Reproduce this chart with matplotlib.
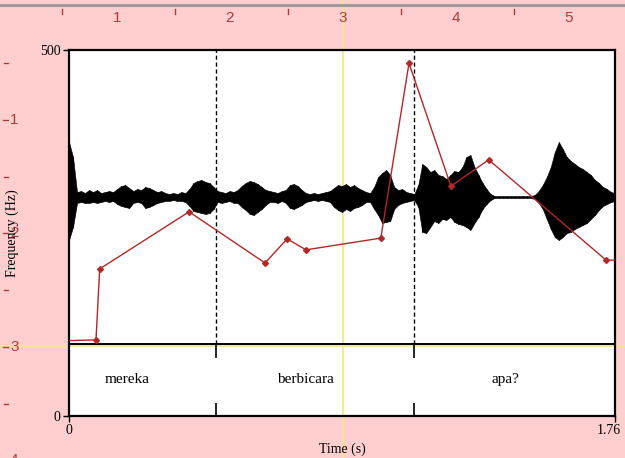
import numpy as np
import matplotlib
matplotlib.use('Agg')
import matplotlib.pyplot as plt
from matplotlib.lines import Line2D
from matplotlib.transforms import ScaledTranslation

# pitch track (s, Hz)
pitch_time = [0.0, 0.087, 0.099, 0.387, 0.632, 0.703, 0.764, 1.005, 1.096, 1.231, 1.353, 1.731, 1.76]
pitch_hz = [103, 104, 201, 279, 209, 242, 227, 243, 482, 314, 350, 213, 213]

# textgrid tier
boundaries = [0.474, 1.112]
words = ['mereka', 'berbicara', 'apa?']
word_time = [0.187, 0.761, 1.406]

# waveform envelope (amplitude above / below zero)
wave_upper = [0.55, 0.40, 0.05, 0.06, 0.04, 0.07, 0.05, 0.07, 0.04, 0.05, 0.06, 0.05,
              0.08, 0.11, 0.12, 0.09, 0.06, 0.08, 0.07, 0.10, 0.09, 0.07, 0.05, 0.06,
              0.04, 0.03, 0.04, 0.03, 0.05, 0.04, 0.08, 0.14, 0.16, 0.17, 0.15, 0.14,
              0.10, 0.06, 0.05, 0.04, 0.06, 0.05, 0.07, 0.11, 0.14, 0.16, 0.15, 0.13,
              0.10, 0.07, 0.06, 0.05, 0.04, 0.06, 0.07, 0.12, 0.13, 0.11, 0.07, 0.04,
              0.03, 0.04, 0.03, 0.04, 0.05, 0.06, 0.09, 0.12, 0.11, 0.13, 0.10, 0.12,
              0.09, 0.07, 0.05, 0.04, 0.10, 0.20, 0.24, 0.27, 0.22, 0.10, 0.07, 0.08,
              0.05, 0.04, 0.03, 0.12, 0.33, 0.30, 0.25, 0.27, 0.22, 0.21, 0.18, 0.22,
              0.26, 0.25, 0.30, 0.40, 0.42, 0.30, 0.22, 0.14, 0.08, 0.03, 0.01, 0.01,
              0.01, 0.01, 0.01, 0.01, 0.01, 0.01, 0.01, 0.01, 0.02, 0.06, 0.12, 0.20,
              0.30, 0.45, 0.55, 0.48, 0.40, 0.36, 0.33, 0.30, 0.28, 0.25, 0.22, 0.17,
              0.14, 0.10, 0.08, 0.05, 0.04]
wave_lower = [0.43, 0.30, 0.06, 0.05, 0.06, 0.06, 0.05, 0.06, 0.05, 0.04, 0.05, 0.04,
              0.07, 0.09, 0.10, 0.11, 0.06, 0.05, 0.06, 0.11, 0.10, 0.08, 0.06, 0.05,
              0.04, 0.04, 0.03, 0.04, 0.04, 0.05, 0.09, 0.14, 0.15, 0.16, 0.17, 0.16,
              0.12, 0.05, 0.06, 0.05, 0.04, 0.06, 0.06, 0.10, 0.13, 0.17, 0.18, 0.15,
              0.12, 0.08, 0.05, 0.05, 0.06, 0.04, 0.06, 0.11, 0.12, 0.10, 0.08, 0.05,
              0.04, 0.03, 0.04, 0.03, 0.04, 0.05, 0.10, 0.13, 0.15, 0.12, 0.14, 0.11,
              0.10, 0.08, 0.05, 0.05, 0.12, 0.18, 0.26, 0.25, 0.24, 0.12, 0.08, 0.06,
              0.05, 0.04, 0.03, 0.10, 0.35, 0.36, 0.30, 0.24, 0.26, 0.22, 0.23, 0.20,
              0.25, 0.27, 0.28, 0.30, 0.33, 0.26, 0.20, 0.12, 0.07, 0.03, 0.01, 0.01,
              0.01, 0.01, 0.01, 0.01, 0.01, 0.01, 0.01, 0.01, 0.02, 0.06, 0.12, 0.22,
              0.32, 0.40, 0.43, 0.40, 0.36, 0.35, 0.32, 0.30, 0.28, 0.26, 0.22, 0.18,
              0.13, 0.09, 0.07, 0.05, 0.04]
duration = 1.76
wave_time = np.linspace(0.0, duration, len(wave_upper))

pink = '#FFCFCF'
ruler_red = '#A83C3C'
yellow = '#F2E88A'
pitch_red = '#B02828'
serif = 'Liberation Serif'

W, H = 625, 458
fig = plt.figure(figsize=(W / 100, H / 100), dpi=100)
fig.set_facecolor(pink)

# axes box in pixels: x 69..615, y 50..416
ax = fig.add_axes([69 / W, 1 - 416 / H, 546 / W, 366 / H])
ax.set_xlim(0, duration)
ax.set_ylim(0, 500)
ax.set_facecolor('white')
for s in ax.spines.values():
    s.set_linewidth(1.6)
    s.set_color('black')

hz_per_px = 500 / 366
tier_line = 98.4
wave_zero = (416 - 197) * hz_per_px
wave_scale = 100 * hz_per_px

# praat cursor lines
ax.axvline(0.883, ymin=-0.2, ymax=1.2, color=yellow, lw=1.3, clip_on=False, zorder=0.5)
ax.axhline(95.6, xmin=-0.2, xmax=1.2, color=yellow, lw=1.3, clip_on=False, zorder=0.5)

# waveform
up = wave_zero + np.array(wave_upper) * wave_scale
lo = wave_zero - np.array(wave_lower) * wave_scale
ax.fill_between(wave_time, lo, up, color='black', lw=0.4, zorder=2)
ax.vlines(wave_time, lo, up, color='black', lw=0.8, zorder=2)

# tier
ax.axhline(tier_line, color='black', lw=1.4, zorder=3)
ax.vlines(boundaries, tier_line, 500, color='black', lw=1.0, linestyles=(0, (3, 2)), zorder=3)
ax.vlines(boundaries, tier_line - 19, tier_line, color='black', lw=1.2, zorder=3)
ax.vlines(boundaries, 0, 18, color='black', lw=1.2, zorder=3)
for w, t in zip(words, word_time):
    ax.text(t, 50, w, ha='center', va='center', family=serif, fontsize=11, zorder=4)

# pitch
ax.plot(pitch_time, pitch_hz, color=pitch_red, lw=1.0, marker='D', ms=3,
        markevery=list(range(1, len(pitch_time) - 1)), zorder=5)

ax.set_xticks([0, duration])
ax.set_xticklabels(['0', '1.76'])
ax.set_yticks([0, 500])
ax.set_yticklabels(['0', '500'])
ax.tick_params(axis='both', direction='out', length=4, width=1, labelsize=10, pad=2)
for lab in ax.get_xticklabels() + ax.get_yticklabels():
    lab.set_family(serif)
last = ax.get_xticklabels()[-1]
last.set_transform(last.get_transform() + ScaledTranslation(-0.06, 0, fig.dpi_scale_trans))
ax.set_xlabel('Time (s)', family=serif, fontsize=10, labelpad=4)
ax.set_ylabel('Frequency (Hz)', family=serif, fontsize=10)
ax.yaxis.set_label_coords(-50 / 546, 0.5)

# rulers of the picture window
fig.add_artist(Line2D([0, 1], [1 - 5 / H, 1 - 5 / H], color='#9C9C9C', lw=2.2))
for k in range(6):
    xh = (62 + 113 * k) / W
    fig.add_artist(Line2D([xh, xh], [1 - 9 / H, 1 - 14 / H], color=ruler_red, lw=1))
for k in range(1, 6):
    fig.text((117 + 113 * (k - 1)) / W, 1 - 18 / H, str(k), ha='center', va='center',
             color=ruler_red, family='Liberation Sans', fontsize=11)
for k in range(4):
    yh = 1 - (63 + 113.5 * k) / H
    fig.add_artist(Line2D([4 / W, 8 / W], [yh, yh], color=ruler_red, lw=1))
for k in range(1, 5):
    yh = 1 - (120 + 113.3 * (k - 1)) / H
    fig.add_artist(Line2D([3 / W, 8 / W], [yh, yh], color=ruler_red, lw=1))
    # the "2" sits under the Frequency label, as in the picture window
    fig.text(10 / W, yh, str(k), ha='left', va='center', color=ruler_red,
             family='Liberation Sans', fontsize=11, zorder=-1 if k == 2 else 3)

fig.savefig('out.png', dpi=100, facecolor=pink)
